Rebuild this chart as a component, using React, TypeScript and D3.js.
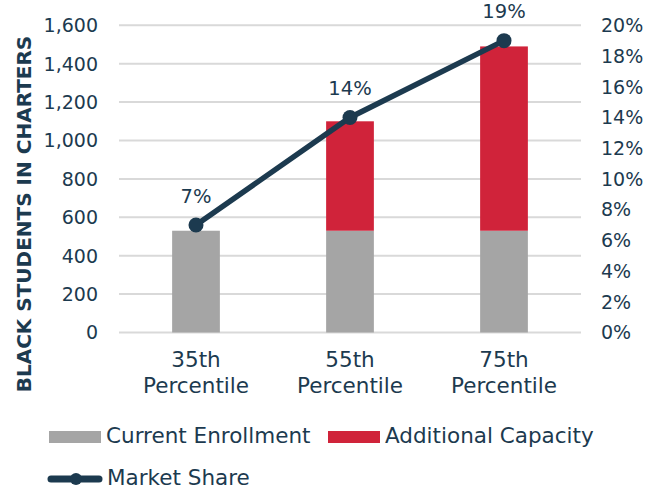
import { useEffect, useRef } from "react";
import * as d3 from "d3";

const categories = ["35th Percentile", "55th Percentile", "75th Percentile"];
const currentEnrollment = [530, 530, 530];
const additionalCapacity = [0, 570, 960];
const marketShare = [0.07, 0.14, 0.19];
const leftTicks = [0, 200, 400, 600, 800, 1000, 1200, 1400, 1600];
const rightTicks = [0, 0.02, 0.04, 0.06, 0.08, 0.1, 0.12, 0.14, 0.16, 0.18, 0.2];

const W = 659;
const H = 490;
const navy = "#1c3a4f";
const font = "'DejaVu Sans', sans-serif";

export default function App() {
  const svgRef = useRef<SVGSVGElement>(null);

  useEffect(() => {
    if (!svgRef.current) return;
    const svg = d3.select(svgRef.current);
    svg.selectAll("*").remove();

    const left = 119, right = 581, top = 25.3, bottom = 332.5;

    const x = d3.scaleBand().domain(categories).range([left, right]).paddingInner(0.69).paddingOuter(0.345);
    const y = d3.scaleLinear().domain([0, 1600]).range([bottom, top]);
    const y2 = d3.scaleLinear().domain([0, 0.2]).range([bottom, top]);

    // grid
    svg.append("g")
      .selectAll("line")
      .data(leftTicks)
      .join("line")
      .attr("x1", left)
      .attr("x2", right)
      .attr("y1", (d) => y(d))
      .attr("y2", (d) => y(d))
      .attr("stroke", "#d9d9d9")
      .attr("stroke-width", 2);

    // left axis labels
    svg.append("g")
      .selectAll("text")
      .data(leftTicks)
      .join("text")
      .attr("x", 98)
      .attr("y", (d) => y(d))
      .attr("dy", "0.36em")
      .attr("text-anchor", "end")
      .attr("font-family", font)
      .attr("font-size", 19)
      .attr("fill", navy)
      .text((d) => d3.format(",")(d));

    // right axis labels
    svg.append("g")
      .selectAll("text")
      .data(rightTicks)
      .join("text")
      .attr("x", 601)
      .attr("y", (d) => y2(d))
      .attr("dy", "0.36em")
      .attr("text-anchor", "start")
      .attr("font-family", font)
      .attr("font-size", 19)
      .attr("fill", navy)
      .text((d) => d3.format(".0%")(d));

    // y axis title
    svg.append("text")
      .attr("transform", `translate(24,214) rotate(-90)`)
      .attr("dy", "0.36em")
      .attr("text-anchor", "middle")
      .attr("font-family", font)
      .attr("font-weight", "bold")
      .attr("font-size", 20)
      .attr("fill", navy)
      .text("BLACK STUDENTS IN CHARTERS");

    // bars
    const bars = svg.append("g");
    categories.forEach((c, i) => {
      const x0 = x(c)!;
      bars.append("rect")
        .attr("x", x0)
        .attr("width", x.bandwidth())
        .attr("y", y(currentEnrollment[i]))
        .attr("height", y(0) - y(currentEnrollment[i]))
        .attr("fill", "#a5a5a5");
      if (additionalCapacity[i] > 0) {
        bars.append("rect")
          .attr("x", x0)
          .attr("width", x.bandwidth())
          .attr("y", y(currentEnrollment[i] + additionalCapacity[i]))
          .attr("height", y(currentEnrollment[i]) - y(currentEnrollment[i] + additionalCapacity[i]))
          .attr("fill", "#d0233a");
      }
    });

    // x labels
    const xl = svg.append("g");
    categories.forEach((c) => {
      const [a, b] = c.split(" ");
      const cx = x(c)! + x.bandwidth() / 2;
      const t = xl.append("text")
        .attr("text-anchor", "middle")
        .attr("font-family", font)
        .attr("font-size", 21.5)
        .attr("fill", navy);
      t.append("tspan").attr("x", cx).attr("y", 367).text(a);
      t.append("tspan").attr("x", cx).attr("y", 393).text(b);
    });

    // line
    const pts = categories.map((c, i) => [x(c)! + x.bandwidth() / 2, y2(marketShare[i])] as [number, number]);
    svg.append("path")
      .attr("d", d3.line()(pts))
      .attr("fill", "none")
      .attr("stroke", navy)
      .attr("stroke-width", 5.5);
    svg.append("g")
      .selectAll("circle")
      .data(pts)
      .join("circle")
      .attr("cx", (d) => d[0])
      .attr("cy", (d) => d[1])
      .attr("r", 7.5)
      .attr("fill", navy);
    svg.append("g")
      .selectAll("text")
      .data(pts)
      .join("text")
      .attr("x", (d) => d[0])
      .attr("y", (d) => d[1] - 29.5)
      .attr("dy", "0.36em")
      .attr("text-anchor", "middle")
      .attr("font-family", font)
      .attr("font-size", 19.5)
      .attr("fill", navy)
      .text((_, i) => d3.format(".0%")(marketShare[i]));

    // legend
    const lg = svg.append("g").attr("font-family", font).attr("font-size", 21.5).attr("fill", navy);
    lg.append("rect").attr("x", 49).attr("y", 431).attr("width", 52).attr("height", 12).attr("fill", "#a5a5a5");
    lg.append("text").attr("x", 106).attr("y", 443).text("Current Enrollment");
    lg.append("rect").attr("x", 328).attr("y", 431).attr("width", 52).attr("height", 12).attr("fill", "#d0233a");
    lg.append("text").attr("x", 385).attr("y", 443).text("Additional Capacity");
    lg.append("line").attr("x1", 51).attr("x2", 99).attr("y1", 479).attr("y2", 479)
      .attr("stroke", navy).attr("stroke-width", 7).attr("stroke-linecap", "round");
    lg.append("circle").attr("cx", 76).attr("cy", 479).attr("r", 6).attr("fill", navy);
    lg.append("text").attr("x", 107).attr("y", 485).text("Market Share");
  }, []);

  return (
    <svg
      ref={svgRef}
      width={W}
      height={H}
      viewBox={`0 0 ${W} ${H}`}
      style={{ position: "absolute", left: 0, top: 0, background: "#fff" }}
    />
  );
}
